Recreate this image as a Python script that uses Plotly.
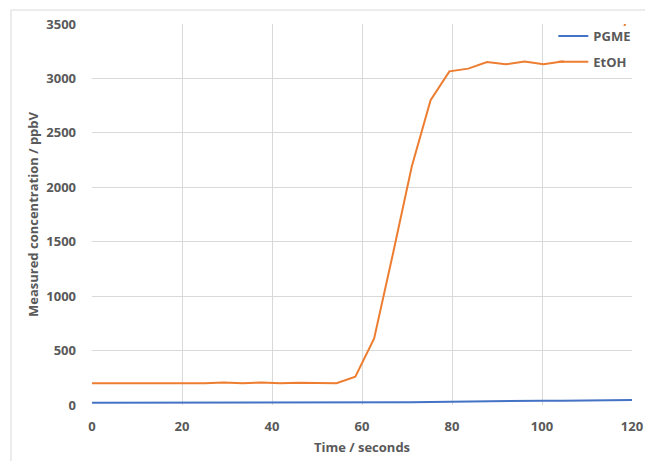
import plotly.graph_objects as go

time_s = [0, 4.18, 8.36, 12.54, 16.72, 20.9, 25.08, 29.26, 33.44, 37.62, 41.8, 45.98,
          50.16, 54.34, 58.52, 62.7, 66.88, 71.06, 75.24, 79.42, 83.6, 87.78, 91.96,
          96.14, 100.32, 104.5, 108.68, 112.86, 117.04, 121.22]
etoh = [200, 200, 200, 200, 200, 200, 200, 207, 200, 207, 200, 205,
        200, 200, 260, 612, 1390, 2190, 2800, 3065, 3090, 3150, 3130,
        3155, 3130, 3155, 3160, 3170, 3250, 4000]
pgme = [20, 20, 20, 20, 20, 20, 20, 20, 20, 20, 20, 20,
        20, 20, 20, 21, 24, 26, 28, 31, 35, 38, 40,
        40, 40, 40, 40, 40, 43, 46]

x_ticks = [0, 20, 40, 60, 80, 100, 120]
y_ticks = [0, 500, 1000, 1500, 2000, 2500, 3000, 3500]

FONT = "Open Sans"
GREY = "#595959"
tf = dict(family=FONT, size=13, color=GREY, weight="bold")

fig = go.Figure()
fig.add_trace(go.Scatter(x=time_s, y=pgme, mode="lines", name="PGME",
                         line=dict(color="#4472C4", width=2), legendgroup="a"))
fig.add_trace(go.Scatter(x=time_s, y=etoh, mode="lines", name="EtOH",
                         line=dict(color="#ED7D31", width=2), legendgroup="b"))

grid = "#d9d9d9"
fig.update_layout(
    width=645, height=461,
    margin=dict(l=92, r=13, t=24, b=56, autoexpand=False),
    paper_bgcolor="white", plot_bgcolor="white",
    font=dict(family=FONT, color=GREY, size=13),
    showlegend=True,
    legend=dict(x=1.008, xanchor="right", y=1.008, yanchor="top",
                bgcolor="rgba(0,0,0,0)",
                font=tf, tracegroupgap=6, itemwidth=30),
    xaxis=dict(range=[0, 120], tickvals=x_ticks, showgrid=True, gridcolor=grid,
               zeroline=False, showline=False, ticks="", automargin=False,
               ticklabelstandoff=12, tickfont=tf,
               title=dict(text="Time / seconds", standoff=8, font=tf)),
    yaxis=dict(range=[0, 3500], tickvals=y_ticks, showgrid=True, gridcolor=grid,
               zeroline=False, showline=False, ticks="", ticklabelstandoff=15,
               automargin=False, tickfont=tf,
               title=dict(text="Measured concentration / ppbV", standoff=4, font=tf)),
    shapes=[
        dict(type="rect", xref="paper", yref="paper", x0=0.874, x1=0.998,
             y0=0.865, y1=0.995, layer="above", fillcolor="white",
             line=dict(width=0)),
        dict(type="line", xref="paper", yref="paper", x0=-0.15, x1=-0.15,
             y0=1.0367, y1=-0.2, line=dict(color=grid, width=1)),
        dict(type="line", xref="paper", yref="paper", x0=-0.15, x1=1.1,
             y0=1.0367, y1=1.0367, line=dict(color=grid, width=1)),
    ],
)

fig.write_html("out.html", config={"displayModeBar": False},
               post_script="document.body.style.margin='0';")
